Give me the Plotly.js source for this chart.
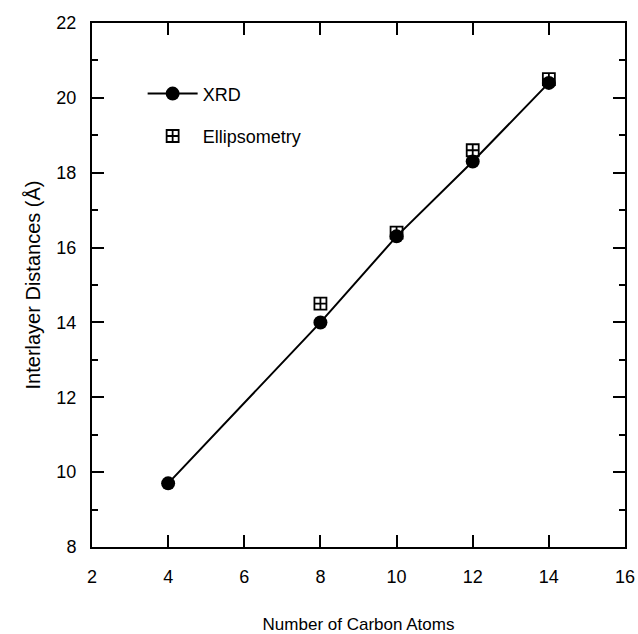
<!DOCTYPE html>
<html>
<head>
<meta charset="utf-8">
<script src="https://cdn.plot.ly/plotly-3.0.1.min.js"></script>
<style>html,body{margin:0;padding:0;background:#fff;}#chart{width:638px;height:634px;}</style>
</head>
<body>
<div id="chart"></div>
<script>
const carbonXRD = [4, 8, 10, 12, 14];
const distXRD = [9.7, 14.0, 16.3, 18.3, 20.4];
const carbonEll = [8, 10, 12, 14];
const distEll = [14.5, 16.4, 18.6, 20.5];
const xTicks = [2, 4, 6, 8, 10, 12, 14, 16];
const yTicks = [8, 10, 12, 14, 16, 18, 20, 22];

const fontFam = 'Liberation Sans, Arial, Helvetica, sans-serif';

const traces = [
  {
    x: carbonXRD, y: distXRD, type: 'scatter', mode: 'lines+markers', name: 'XRD',
    legendgroup: 'a',
    line: {color: '#000', width: 2},
    marker: {symbol: 'circle', size: 14, color: '#000'}
  },
  {
    x: carbonEll, y: distEll, type: 'scatter', mode: 'markers', name: 'Ellipsometry',
    legendgroup: 'b',
    marker: {symbol: 'square-cross-open', size: 12, color: '#000', line: {width: 1.8, color: '#000'}}
  }
];

const axisCommon = {
  showgrid: false, zeroline: false,
  showline: true, linecolor: '#000', linewidth: 2,
  mirror: 'ticks', ticks: 'inside', ticklen: 12, tickwidth: 2, tickcolor: '#000',
  tickfont: {family: fontFam, size: 18, color: '#000'}
};

const layout = {
  width: 638, height: 634,
  margin: {l: 92, r: 13, t: 23, b: 87},
  paper_bgcolor: '#fff', plot_bgcolor: '#fff',
  showlegend: true,
  legend: {
    x: 0.095, y: 0.9, xanchor: 'left', yanchor: 'top',
    bgcolor: 'rgba(0,0,0,0)', borderwidth: 0,
    font: {family: fontFam, size: 18, color: '#000'},
    itemwidth: 50,
    tracegroupgap: 16
  },
  xaxis: Object.assign({}, axisCommon, {
    range: [2, 16], tickmode: 'array', tickvals: xTicks, ticktext: xTicks.map(String),
    ticklabelstandoff: 12,
    title: {text: 'Number of Carbon Atoms', font: {family: fontFam, size: 17, color: '#000'}, standoff: 37}
  }),
  yaxis: Object.assign({}, axisCommon, {
    range: [8, 22], tickmode: 'array', tickvals: yTicks, ticktext: yTicks.map(String),
    ticklabelstandoff: 10,
    minor: {dtick: 1, tick0: 8, ticks: 'inside', ticklen: 6, tickwidth: 2, tickcolor: '#000'},
    title: {text: 'Interlayer Distances (Å)', font: {family: fontFam, size: 20, color: '#000'}, standoff: 10}
  })
};

Plotly.newPlot('chart', traces, layout, {displayModeBar: false, staticPlot: true});
</script>
</body>
</html>
